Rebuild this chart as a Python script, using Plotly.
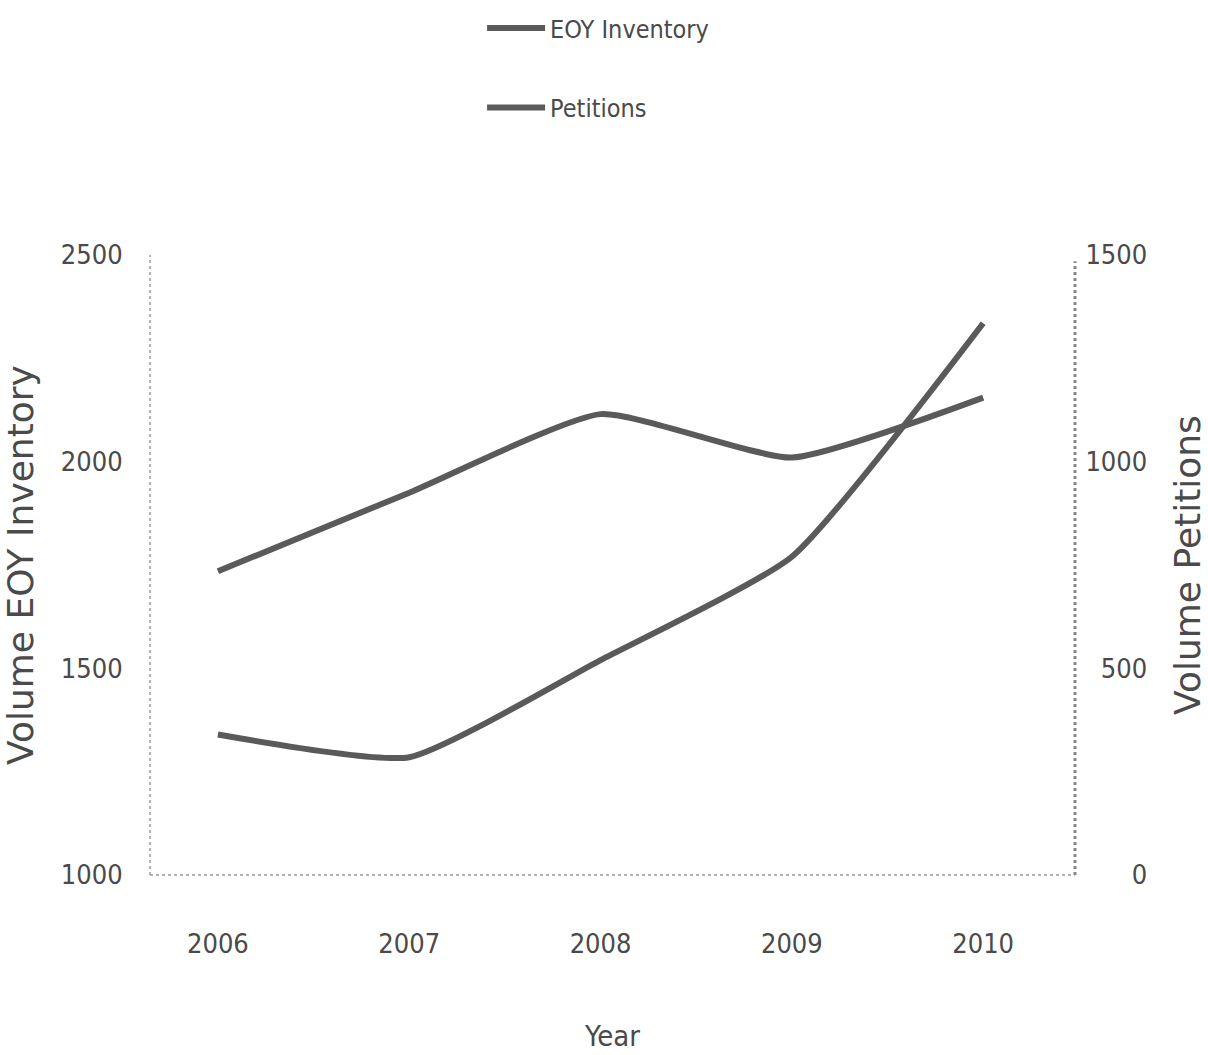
import plotly.graph_objects as go

# Year-end inventory and petition volumes
years = [2006, 2007, 2008, 2009, 2010]
year_labels = ["2006", "2007", "2008", "2009", "2010"]
eoy_inventory = [1735, 1925, 2115, 2010, 2155]
petitions = [340, 285, 520, 770, 1335]

left_ticks = [1000, 1500, 2000, 2500]
right_ticks = [0, 500, 1000, 1500]

# right-axis labels are right-aligned: pad with figure spaces (digit width)
FIG_SPACE = "\u2007"
right_labels = [str(v).rjust(4, FIG_SPACE) for v in right_ticks]

INK = "#4a4a4a"
LINE = "#5a5a5a"
NARROW = "DejaVu Sans Condensed, Liberation Sans Narrow, Arial Narrow, sans-serif"
WIDE = "DejaVu Sans, Verdana, sans-serif"

fig = go.Figure()
fig.add_trace(go.Scatter(
    x=years, y=eoy_inventory, name="EOY Inventory", mode="lines",
    line=dict(color=LINE, width=6, shape="spline", smoothing=0.5),
    legendgroup="a", yaxis="y",
))
fig.add_trace(go.Scatter(
    x=years, y=petitions, name="Petitions", mode="lines",
    line=dict(color=LINE, width=6, shape="spline", smoothing=0.5),
    legendgroup="b", yaxis="y2",
))

fig.update_layout(
    width=1208, height=1055,
    margin=dict(l=150, r=133, t=255, b=180),
    paper_bgcolor="white", plot_bgcolor="white",
    font=dict(family=NARROW, color=INK, size=27),
    showlegend=True,
    legend=dict(
        x=0.359, xref="paper", xanchor="left",
        y=0.995, yref="container", yanchor="top",
        font=dict(family=NARROW, size=25, color=INK),
        tracegroupgap=44, itemwidth=58, bgcolor="rgba(0,0,0,0)",
    ),
    xaxis=dict(
        range=[2005.645, 2010.48], tickvals=years, ticktext=year_labels,
        showgrid=False, zeroline=False, showline=False, automargin=False,
        ticks="outside", ticklen=45, tickcolor="rgba(0,0,0,0)",
        tickfont=dict(family=NARROW, size=27, color=INK),
        title=dict(text="Year", font=dict(family=NARROW, size=29, color=INK), standoff=67),
    ),
    yaxis=dict(
        range=[1000, 2500], tickvals=left_ticks,
        showgrid=False, zeroline=False, showline=False, automargin=False,
        ticks="outside", ticklen=21, tickcolor="rgba(0,0,0,0)",
        tickfont=dict(family=NARROW, size=27, color=INK),
        title=dict(text="Volume EOY Inventory", font=dict(family=WIDE, size=36, color=INK), standoff=26),
    ),
    yaxis2=dict(
        range=[0, 1500], tickvals=right_ticks, ticktext=right_labels,
        overlaying="y", side="right",
        showgrid=False, zeroline=False, showline=False, automargin=False,
        ticks="outside", ticklen=4, tickcolor="rgba(0,0,0,0)",
        tickfont=dict(family=NARROW, size=27, color=INK),
        title=dict(text="Volume Petitions", font=dict(family=WIDE, size=36, color=INK), standoff=38),
    ),
    shapes=[
        # dotted frame on left, bottom and right
        dict(type="line", xref="paper", yref="paper", x0=0, x1=0, y0=0, y1=1,
             line=dict(color="#9a9a9a", width=1.5, dash="dot")),
        dict(type="line", xref="paper", yref="paper", x0=0, x1=1, y0=0, y1=0,
             line=dict(color="#9a9a9a", width=1.5, dash="dot")),
        dict(type="line", xref="paper", yref="paper", x0=1, x1=1, y0=0, y1=0.99,
             line=dict(color="#888888", width=3, dash="dot")),
    ],
)

fig.write_html("out.html")
